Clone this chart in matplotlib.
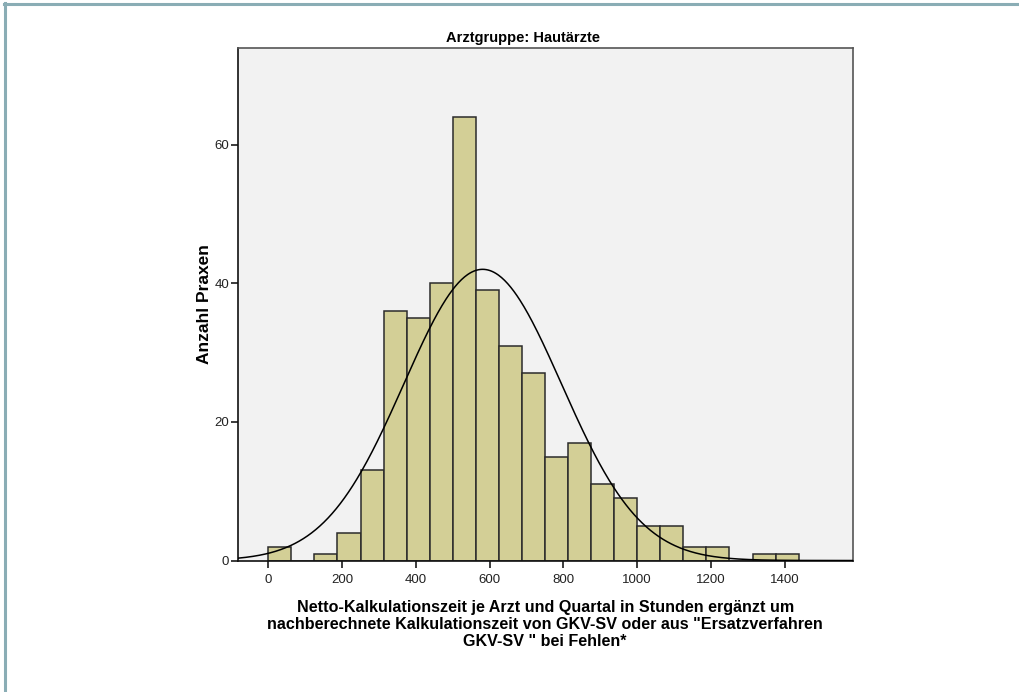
import numpy as np
import matplotlib
matplotlib.use('Agg')
import matplotlib.pyplot as plt
from matplotlib.lines import Line2D

# bin edges (width 62.5 starting at 0) and counts
bin_width = 62.5
bin_starts = np.arange(0, 1437.5, bin_width)
counts = [2, 0, 1, 4, 13, 36, 35, 40, 64, 39, 31, 27, 15, 17, 11, 9, 5, 5, 2, 2, 0, 1, 1]

# normal curve parameters (as fitted in the original)
curve_mean = 581.0
curve_sd = 213.6
n_total = 360

x_ticks = [0, 200, 400, 600, 800, 1000, 1200, 1400]
y_ticks = [0, 20, 40, 60]

title = 'Arztgruppe: Hautärzte'
xlabel = ('Netto-Kalkulationszeit je Arzt und Quartal in Stunden ergänzt um\n'
          'nachberechnete Kalkulationszeit von GKV-SV oder aus "Ersatzverfahren\n'
          'GKV-SV " bei Fehlen*')
ylabel = 'Anzahl Praxen'

plt.rcParams['font.family'] = ['Liberation Sans', 'DejaVu Sans']

W, H = 1020, 692
fig = plt.figure(figsize=(W / 100, H / 100), dpi=100)
ax = fig.add_axes([0.233, 0.190, 0.603, 0.740])
ax.set_facecolor('#f2f2f2')

ax.bar(bin_starts, counts, width=bin_width, align='edge',
       color='#d3cf96', edgecolor='#2b2b2b', linewidth=1.1, zorder=2)

xs = np.linspace(-83, 1584, 600)
ys = n_total * bin_width / (curve_sd * np.sqrt(2 * np.pi)) * \
    np.exp(-0.5 * ((xs - curve_mean) / curve_sd) ** 2)
ax.plot(xs, ys, color='black', linewidth=1.1, zorder=3)

ax.set_xlim(-83, 1584)
ax.set_ylim(0, 73.9)
ax.set_xticks(x_ticks)
ax.set_yticks(y_ticks)
ax.tick_params(axis='both', direction='out', length=5, width=1.2,
               colors='#1a1a1a', labelsize=9.5, labelcolor='#222222')
ax.tick_params(axis='y', pad=1)
ax.tick_params(axis='x', pad=4.5)
for s in ['left', 'bottom']:
    ax.spines[s].set_color('#111111')
    ax.spines[s].set_linewidth(1.2)
for s in ['top', 'right']:
    ax.spines[s].set_color('#555555')
    ax.spines[s].set_linewidth(1.2)

# title sits a little left of the axes centre, as in the SPSS export
fig.text(523 / W, 1 - 38 / H, title, fontsize=10.5, fontweight='bold',
         ha='center', va='center')
ax.set_xlabel(xlabel, fontsize=11.6, fontweight='bold', linespacing=1.2, labelpad=10)
ax.set_ylabel(ylabel, fontsize=12.5, fontweight='bold', labelpad=2)

# outer frame lines (left and top) like the original export
border = '#8aadb5'
fig.add_artist(Line2D([5 / W, 5 / W], [0, 1 - 3 / H], color=border, linewidth=2.2,
                      transform=fig.transFigure))
fig.add_artist(Line2D([4 / W, 1], [1 - 4 / H, 1 - 4 / H], color=border, linewidth=2.2,
                      transform=fig.transFigure))

fig.savefig('out.png', dpi=100)
